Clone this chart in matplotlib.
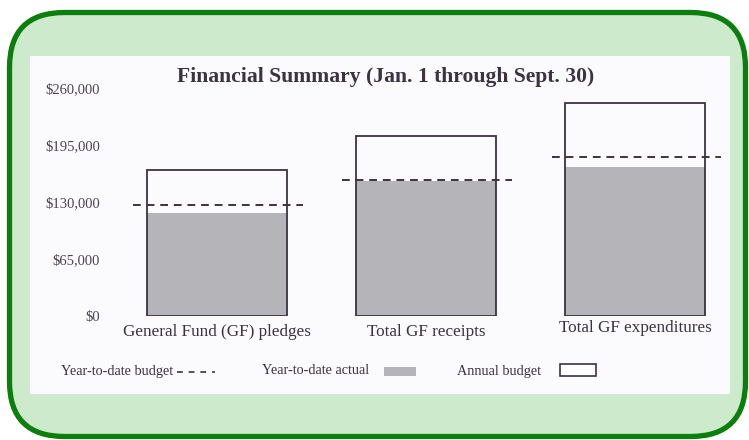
import matplotlib
matplotlib.use("Agg")
import matplotlib.pyplot as plt
from matplotlib.patches import FancyBboxPatch, Rectangle
from matplotlib.lines import Line2D

# data
categories = ["General Fund (GF) pledges", "Total GF receipts", "Total GF expenditures"]
annual_budget = [167000, 205000, 242500]
ytd_actual = [117000, 153500, 169500]
ytd_budget = [126500, 155000, 181500]
yticks = [0, 65000, 130000, 195000, 260000]
ytick_labels = ["$0", "$65,000", "$130,000", "$195,000", "$260,000"]

ink = "#3b3340"
gray = "#b5b4b9"
serif = ["Liberation Serif", "DejaVu Serif"]

fig = plt.figure(figsize=(7.49, 4.40), dpi=100)
fig.patch.set_facecolor("white")

# background: green rounded frame and the white "paper"
bg = fig.add_axes([0, 0, 1, 1])
bg.set_xlim(0, 749)
bg.set_ylim(440, 0)
bg.axis("off")
frame = FancyBboxPatch((9.5, 12.5), 736, 424, boxstyle="round,pad=0,rounding_size=55",
                       facecolor="#cdeacd", edgecolor="#0b7f0b", linewidth=3.8)
bg.add_patch(frame)
bg.add_patch(Rectangle((29.5, 56.5), 700.5, 337.5, facecolor="#fbfbfd", edgecolor="none"))

# legend, drawn by hand like the original
leg_y = 371
bg.text(61, leg_y, "Year-to-date budget", family=serif, fontsize=10.3, color=ink, va="center")
bg.add_line(Line2D([177, 215], [leg_y + 1, leg_y + 1], color=ink, linewidth=1.2, dashes=(3.5, 3.5)))
bg.text(262, leg_y, "Year-to-date actual", family=serif, fontsize=10.3, color=ink, va="center")
bg.add_patch(Rectangle((384, 367), 32, 9, facecolor=gray, edgecolor="none"))
bg.text(457, leg_y, "Annual budget", family=serif, fontsize=10.3, color=ink, va="center")
bg.add_patch(Rectangle((560, 364), 36, 12, facecolor="white", edgecolor=ink, linewidth=1.2))

# main chart
ax = fig.add_axes([100 / 749, (440 - 316) / 440, 630 / 749, 228 / 440])
ax.patch.set_alpha(0)
x = list(range(len(categories)))
w = 0.67

ax.bar(x, ytd_actual, width=w, color=gray, edgecolor="none", zorder=2)
ax.bar(x, annual_budget, width=w, facecolor="none", edgecolor=ink, linewidth=1.3, zorder=3)
for i, v in enumerate(ytd_budget):
    ax.plot([i - 0.4, i + 0.41], [v, v], color=ink, linewidth=1.4, dashes=(4, 3), zorder=4)

ax.set_xlim(-0.5575, 2.4523)
ax.set_ylim(0, 260000)
for s in ax.spines.values():
    s.set_visible(False)
ax.set_xticks([])
ax.set_yticks(yticks)
ax.set_yticklabels(ytick_labels, family=serif, fontsize=10.5, color="#4a4450")
ax.tick_params(axis="y", length=0, pad=0)

label_y = [-0.07, -0.07, -0.053]
for i, c in enumerate(categories):
    ax.text(i, label_y[i], c, transform=ax.get_xaxis_transform(), ha="center", va="center",
            family=serif, fontsize=12.3, color=ink)

fig.text(386 / 749, 1 - 77 / 440, "Financial Summary (Jan. 1 through Sept. 30)",
         family=serif, fontsize=15.6, fontweight="bold", color=ink, ha="center", va="center")

fig.savefig("out.png", dpi=100, facecolor="white")
